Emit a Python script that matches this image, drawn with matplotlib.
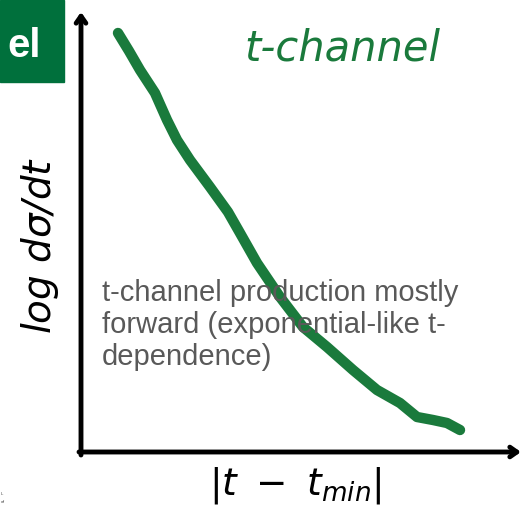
import matplotlib.pyplot as plt
from matplotlib.patches import Rectangle

# hand-sketched t-channel cross section (arbitrary units, origin at the drawn axes)
t_dist = [37, 48, 59, 74, 86, 96, 109, 129, 147, 159, 176, 199, 222, 246, 272, 296, 319, 336, 352, 366, 379]
log_dsig = [419, 401, 382, 359, 332, 312, 292, 265, 240, 219, 189, 155, 125, 105, 82, 62, 49, 35, 32, 29, 22]

title = "t-channel"
ylabel = r"log d$\sigma$/dt"
xlabel = r"$|t\ -\ t_{min}|$"
note = "t-channel production mostly\nforward (exponential-like t-\ndependence)"

green = "#1a7a3c"

fig = plt.figure(figsize=(5.22, 5.11), dpi=100)
ax = fig.add_axes([0, 0, 1, 1])
ax.set_xlim(-81, 441)
ax.set_ylim(-59, 452)
ax.axis("off")

# axes arrows
arrow = dict(arrowstyle="->,head_length=0.5,head_width=0.35", lw=3.5, color="black",
             shrinkA=0, shrinkB=0)
ax.annotate("", xy=(0, 440), xytext=(0, -3), arrowprops=arrow)
ax.annotate("", xy=(440, 0), xytext=(-2, 0), arrowprops=arrow)

# curve
ax.plot(t_dist, log_dsig, color=green, lw=7.5, solid_capstyle="round", solid_joinstyle="round")

# green slide box, cut off at the left edge
ax.add_patch(Rectangle((-81, 370), 64, 82, color="#00703c", zorder=3))
ax.text(-40, 406, "el", color="white", fontsize=29, fontweight="bold",
        family="Liberation Sans", ha="right", va="center", zorder=4)

ax.text(261, 404, title, color=green, fontsize=30, style="italic", ha="center", va="center")
ax.text(-41, 207, ylabel, color="black", fontsize=28, style="italic", rotation=90,
        ha="center", va="center")
ax.text(214, -33, xlabel, color="black", fontsize=27, ha="center", va="center")

ax.text(21, 127, note, color="#595959", fontsize=21, family="Liberation Sans",
        ha="left", va="center", linespacing=1.2)

ax.text(-80, -42, "L", fontsize=3, color="#444444", va="center")
ax.text(-80, -50, "of", fontsize=3, color="#444444", va="center")

fig.savefig("out.png", dpi=100)
